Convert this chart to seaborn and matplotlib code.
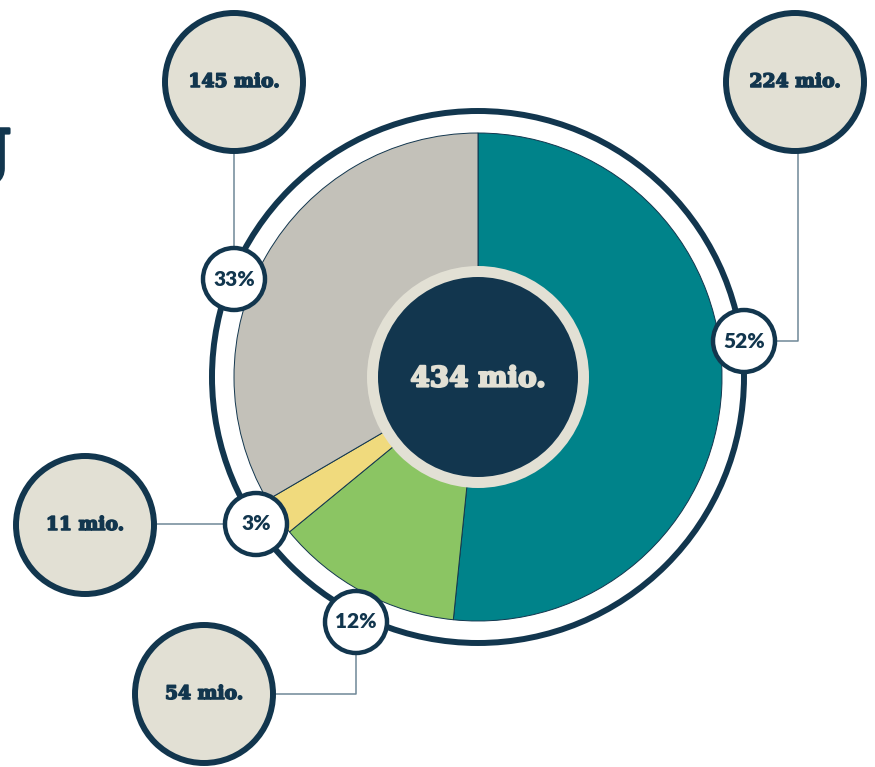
import matplotlib
matplotlib.use("Agg")
import matplotlib.pyplot as plt
import matplotlib.patheffects as pe
import seaborn as sns
from matplotlib.patches import Circle

# data
values = [224, 54, 11, 145]
shares = ["52%", "12%", "3%", "33%"]
amounts = ["224 mio.", "54 mio.", "11 mio.", "145 mio."]
total_label = "434 mio."
slice_colors = ["#00838a", "#8bc563", "#f0da7d", "#c3c1b9"]

NAVY = "#12364e"
BEIGE = "#e2e0d4"
LINE = "#6f8797"

W, H = 875, 767


def py(y):
    # picture y (top down) -> axis y (bottom up)
    return H - y


def heavy(color, w=1.2):
    # thicken the bold slab text a little
    return [pe.withStroke(linewidth=w, foreground=color)]


sns.set_theme(style="white")
plt.rcParams["font.family"] = ["DejaVu Serif", "DejaVu Sans"]

fig = plt.figure(figsize=(W / 100, H / 100), dpi=100)
ax = fig.add_axes([0, 0, 1, 1])

cx, cy = 478, 377

# outer ring
ax.add_patch(Circle((cx, py(cy)), 266, facecolor="white", edgecolor=NAVY, lw=4.3, zorder=1))

ax.pie(values, colors=slice_colors, startangle=90, counterclock=False,
       center=(cx, py(cy)), radius=244, frame=True,
       wedgeprops=dict(edgecolor=NAVY, linewidth=0.7, zorder=2))

# centre disc
ax.add_patch(Circle((cx, py(cy)), 111, facecolor=BEIGE, edgecolor="none", zorder=3))
ax.add_patch(Circle((cx, py(cy)), 100, facecolor=NAVY, edgecolor="none", zorder=4))
ax.text(cx, py(cy + 2), total_label, ha="center", va="center", color=BEIGE,
        fontsize=20, fontweight="black", family="DejaVu Serif", zorder=5,
        path_effects=heavy(BEIGE, 1.6))

# connector lines (drawn under the circles)
connectors = [
    [(798, 150), (798, 341), (776, 341)],
    [(276, 694), (356, 694), (356, 654)],
    [(156, 524), (224, 524)],
    [(234, 150), (234, 248)],
]
for pts in connectors:
    ax.plot([p[0] for p in pts], [py(p[1]) for p in pts], color=LINE, lw=1.1, zorder=5)

# percent badges on the ring
pct_pos = [(744, 341), (356, 622), (256, 524), (234, 279)]
for (x, y), s in zip(pct_pos, shares):
    ax.add_patch(Circle((x, py(y)), 31, facecolor="white", edgecolor=NAVY, lw=3.2, zorder=6))
    ax.text(x, py(y), s, ha="center", va="center", color=NAVY, fontsize=15,
            fontweight="heavy", family="Lato", zorder=7)

# amount circles
amt_pos = [(795, 82), (204, 694), (85, 525), (234, 82)]
for (x, y), s in zip(amt_pos, amounts):
    ax.add_patch(Circle((x, py(y)), 69, facecolor=BEIGE, edgecolor=NAVY, lw=4.3, zorder=6))
    ax.text(x, py(y), s, ha="center", va="center", color=NAVY, fontsize=13.5,
            fontweight="black", family="DejaVu Serif", zorder=7,
            path_effects=heavy(NAVY, 1.1))

# cut-off title letter at the left edge
ax.text(11, py(148), "g", ha="right", va="center", color=NAVY, fontsize=56,
        fontweight="black", family="DejaVu Serif", zorder=7,
        path_effects=heavy(NAVY, 2))

ax.set_xlim(0, W)
ax.set_ylim(0, H)
ax.set_aspect("equal")
ax.axis("off")

fig.savefig("out.png", dpi=100, facecolor="white")
